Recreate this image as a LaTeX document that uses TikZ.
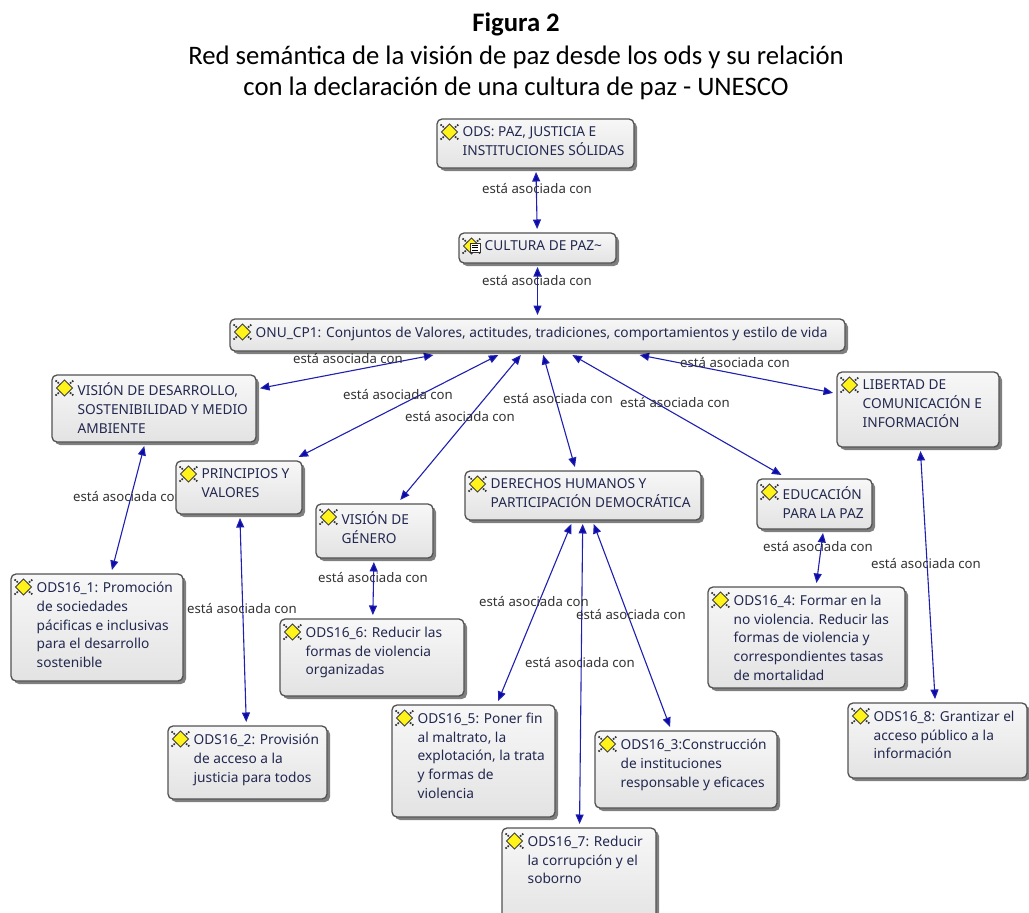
\documentclass[tikz,border=0pt]{standalone}
\usepackage{fontspec}
\setmainfont{Noto Sans}
\newfontfamily\titlefont{Carlito}
\usetikzlibrary{arrows.meta,shadows,backgrounds}
\definecolor{linkblue}{HTML}{2020B0}
\definecolor{tipblue}{HTML}{0A0AA8}
\definecolor{boxtext}{HTML}{22284F}
\definecolor{lbltext}{HTML}{333333}
\tikzset{
  conbox/.style={draw=black!68,line width=1.3pt,rounded corners=5pt,top color=black!3,bottom color=black!11,
    drop shadow={shadow xshift=3pt,shadow yshift=-3pt,opacity=.5,fill=black},outer sep=4pt,inner sep=0pt},
  contxt/.style={anchor=north west,inner sep=0pt,align=left,text=boxtext,font=\fontsize{13.7}{18.9}\selectfont},
  link/.style={draw=linkblue,line width=1.1pt,{Triangle[length=9.5pt,width=8pt,fill=tipblue]}-{Triangle[length=9.5pt,width=8pt,fill=tipblue]}},
  lbl/.style={inner sep=0pt,text=lbltext,font=\fontsize{13.2}{15}\selectfont},
  ttl/.style={inner sep=0pt,font=\titlefont\fontsize{26.7}{30}\selectfont}
}
% diamond icon centred at (#1,#2)
\newcommand{\diamicon}[2]{%
  \begin{scope}[shift={(#1,#2)}]
    \draw[black!80,line width=1.7pt,dash pattern=on 1.6pt off 1.1pt] (-9,-7.5)--(9,7.5) (-9,7.5)--(9,-7.5);
    \filldraw[draw=black!75,fill=yellow!90!white,line width=.8pt] (-8,0)--(0,-8)--(8,0)--(0,8)--cycle;
  \end{scope}}
% box: name,x1,y1,x2,y2,text
\newcommand{\cbox}[6]{%
  \pgfmathsetmacro{\cbw}{#4-#2}\pgfmathsetmacro{\cbh}{#5-#3}%
  \pgfmathsetmacro{\cbx}{(#2+#4)/2}\pgfmathsetmacro{\cby}{(#3+#5)/2}%
  \node[conbox,minimum width=\cbw pt,minimum height=\cbh pt] (#1) at (\cbx,\cby) {};
  \diamicon{#2+12.5}{#3+13}
  \node[contxt] (#1-t) at (#2+25.5,#3+7.5) {#6};
}
\begin{document}
\begin{tikzpicture}[x=1pt,y=-1pt]
\useasboundingbox (0,0) rectangle (1029,913);
\begin{scope}
\clip (0,0) rectangle (1029,913);
\node[ttl] (t1) at (516,24) {\bfseries Figura 2};
\node[ttl] (t2) at (516,57) {Red semántica de la visión de paz desde los ods y su relación};
\node[ttl] (t3) at (516,88) {con la declaración de una cultura de paz - UNESCO};

\cbox{ods}{437}{119}{634}{168}{ODS: PAZ, JUSTICIA E\\INSTITUCIONES SÓLIDAS}
\cbox{cul}{459}{233}{616}{263}{CULTURA DE PAZ\textasciitilde}
\begin{scope}[shift={(473,246)}]
  \filldraw[draw=black!80,fill=white,line width=.6pt] (-3,-3) rectangle (7,6);
  \draw[black,line width=.5pt] (-1,-1)--(5,-1) (-1,1.5)--(5,1.5) (-1,4)--(5,4);
\end{scope}
\cbox{onu}{230}{319}{845}{351}{ONU\_CP1: Conjuntos de Valores, actitudes, tradiciones, comportamientos y estilo de vida}
\cbox{vde}{52}{375}{256}{442}{VISIÓN DE DESARROLLO,\\SOSTENIBILIDAD Y MEDIO\\AMBIENTE}
\cbox{pri}{176}{461}{302}{514}{PRINCIPIOS Y\\VALORES}
\cbox{vge}{316}{504}{433}{558}{VISIÓN DE\\GÉNERO}
\cbox{der}{465}{471}{701}{520}{DERECHOS HUMANOS Y\\PARTICIPACIÓN DEMOCRÁTICA}
\cbox{edu}{757}{479}{872}{529}{EDUCACIÓN\\PARA LA PAZ}
\cbox{lib}{837}{372}{999}{447}{LIBERTAD DE\\COMUNICACIÓN E\\INFORMACIÓN}
\cbox{o1}{11}{574}{183}{681}{ODS16\_1: Promoción\\de sociedades\\pácificas e inclusivas\\para el desarrollo\\sostenible}
\cbox{o6}{280}{619}{464}{696}{ODS16\_6: Reducir las\\formas de violencia\\organizadas}
\cbox{o2}{168}{726}{327}{799}{ODS16\_2: Provisión\\de acceso a la\\justicia para todos}
\cbox{o5}{392}{705}{555}{817}{ODS16\_5: Poner fin\\al maltrato, la\\explotación, la trata\\y formas de\\violencia}
\cbox{o3}{595}{731}{777}{808}{ODS16\_3:Construcción\\de instituciones\\responsable y eficaces}
\cbox{o7}{502}{828}{656}{925}{ODS16\_7: Reducir\\la corrupción y el\\soborno}
\cbox{o4}{708}{587}{905}{688}{ODS16\_4: Formar en la\\no violencia. Reducir las\\formas de violencia y\\correspondientes tasas\\de mortalidad}
\cbox{o8}{848}{703}{1027}{778}{ODS16\_8: Grantizar el\\acceso público a la\\información}
\end{scope}
\begin{scope}[on background layer]
\fill[white] (0,0) rectangle (1029,913);
\foreach \a/\b in {ods/cul,cul/onu,onu/vde,onu/pri,onu/vge,onu/der,onu/lib,vde/o1,pri/o2,vge/o6,der/o5,der/o7,der/o3,lib/o8}
  \draw[link] (\a) -- (\b);
\draw[link] (onu) -- ([xshift=-33pt]edu.north);
\draw[link] ([xshift=8.5pt]edu.south) -- ([xshift=10pt]o4.north);
\node[lbl] (l1) at (537,188.7) {está asociada con};
\node[lbl] (l2) at (537,280.7) {está asociada con};
\node[lbl] (l3) at (348,358.7) {está asociada con};
\node[lbl] (l4) at (398,394.7) {está asociada con};
\node[lbl] (l5) at (460,416.7) {está asociada con};
\node[lbl] (l6) at (558,398.7) {está asociada con};
\node[lbl] (l7) at (675,402.7) {está asociada con};
\node[lbl] (l8) at (735,362.7) {está asociada con};
\node[lbl] (l9) at (128,496.7) {está asociada con};
\node[lbl] (l10) at (242,608.7) {está asociada con};
\node[lbl] (l11) at (373,577.7) {está asociada con};
\node[lbl] (l12) at (534,601.7) {está asociada con};
\node[lbl] (l13) at (631,614.7) {está asociada con};
\node[lbl] (l14) at (580,662.7) {está asociada con};
\node[lbl] (l15) at (818,546.7) {está asociada con};
\node[lbl] (l16) at (926,563.7) {está asociada con};
\end{scope}
\end{tikzpicture}
\end{document}
